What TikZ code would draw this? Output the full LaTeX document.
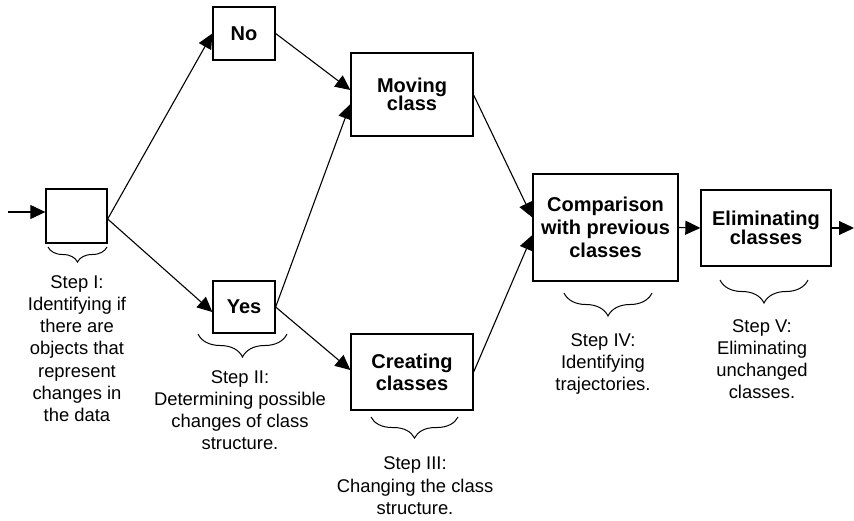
\documentclass[tikz,border=0pt]{standalone}
\usepackage{fontspec}
\setmainfont{Liberation Sans}
\usetikzlibrary{arrows.meta,decorations.pathreplacing}
\newcommand\tightlines{\lineskiplimit=-30pt\relax}
\begin{document}
\begin{tikzpicture}[x=1pt,y=-1pt,
  box/.style={draw,line width=1.3pt,inner sep=0pt,align=center},
  bt/.style={font=\bfseries\fontsize{20}{#1}\selectfont\tightlines},
  conn/.style={line width=1.1pt,-{Triangle[length=15pt,width=14pt]}},
  stepbrace/.style={decorate,decoration={brace,amplitude=#1},line width=1pt},
  steptext/.style={anchor=north,inner sep=0pt,align=center,font=\fontsize{18.4}{22.3}\selectfont\tightlines}]
\useasboundingbox (0,0) rectangle (854,520);
% boxes
\node[box,bt=20,minimum width=61pt,minimum height=54pt] (start) at (76.5,216) {};
\node[box,bt=20,minimum width=62pt,minimum height=53pt] (no) at (244,33.5) {No};
\node[box,bt=20,minimum width=62pt,minimum height=52pt] (yes) at (244,307) {Yes};
\node[box,bt=18.5,minimum width=122pt,minimum height=83pt] (moving) at (412,94.5) {Moving\\class};
\node[box,bt=22,minimum width=122pt,minimum height=76pt] (creating) at (412,372) {Creating\\classes};
\node[box,bt=23,minimum width=145pt,minimum height=107pt] (comp) at (605.5,227.5) {Comparison\\with previous\\classes};
\node[box,bt=18.5,minimum width=130pt,minimum height=76pt] (elim) at (766,228) {Eliminating\\classes};
\coordinate (in) at (8,212);
\coordinate (out) at (854,228);
% connectors
\draw[conn] (in) -- ([yshift=4pt]start.west);
\draw[conn] ([yshift=-3pt]start.east) -- (no.west);
\draw[conn] ([yshift=-3pt]start.east) -- ([yshift=-5pt]yes.west);
\draw[conn] (no.east) -- ([yshift=4.5pt]moving.west);
\draw[conn] (yes.east) -- ([yshift=-9.5pt]moving.west);
\draw[conn] (yes.east) -- ([yshift=2pt]creating.west);
\draw[conn] ([yshift=-0.5pt]moving.east) -- ([yshift=10pt]comp.west);
\draw[conn] (creating.east) -- ([yshift=-7.5pt]comp.west);
\draw[conn] (comp.east) -- (elim.west);
\draw[conn] (elim.east) -- (out);
% braces
\draw[stepbrace=15pt] (107,247) -- (48,247);
\draw[stepbrace=23pt] (287,334) -- (198,334);
\draw[stepbrace=21pt] (458,417) -- (371,417);
\draw[stepbrace=23pt] (652,293) -- (564,293);
\draw[stepbrace=23pt] (808,280) -- (720,280);
% step texts
\node[steptext] (t1) at (77,275) {Step I:\\Identifying if\\there are\\objects that\\represent\\changes in\\the data};
\node[steptext] (t2) at (240,370) {Step II:\\Determining possible\\changes of class\\structure.};
\node[steptext] (t3) at (415,456.7) {Step III:\\Changing the class\\structure.};
\node[steptext] (t4) at (603,333) {Step IV:\\Identifying\\trajectories.};
\node[steptext] (t5) at (762,319) {Step V:\\Eliminating\\unchanged\\classes.};
\end{tikzpicture}
\end{document}
